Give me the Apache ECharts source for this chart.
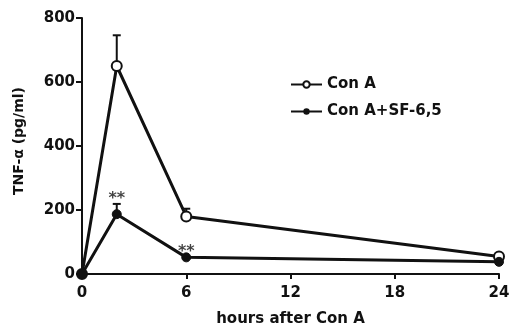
<!DOCTYPE html>
<html>
<head>
<meta charset="utf-8">
<script src="https://cdn.jsdelivr.net/npm/echarts@6/dist/echarts.min.js"></script>
<style>
html, body { margin: 0; padding: 0; background: #fff; }
#chart { width: 509px; height: 326px; }
</style>
</head>
<body>
<div id="chart"></div>
<script>
// hours after Con A
var hours = [0, 2, 6, 24];
var conA = [0, 650, 180, 55];
var conAErr = [0, 96, 24, 0];
var conASF = [0, 187, 52, 38];
var conASFErr = [0, 32, 0, 0];
// significance marks (hour, label)
var starHours = [2, 6];
var starLabels = ['**', '**'];

var font = '"DejaVu Sans", Verdana, sans-serif';

function pairs(xs, ys) {
	var out = [];
	for (var i = 0; i < xs.length; i++) out.push([xs[i], ys[i]]);
	return out;
}

function errData(ys, es) {
	var out = [];
	for (var i = 0; i < hours.length; i++) {
		if (es[i] > 0) out.push([hours[i], ys[i], ys[i] + es[i]]);
	}
	return out;
}

function renderErr(params, api) {
	var p0 = api.coord([api.value(0), api.value(1)]);
	var p1 = api.coord([api.value(0), api.value(2)]);
	var style = { stroke: '#111', lineWidth: 2 };
	return {
		type: 'group',
		children: [
			{ type: 'line', shape: { x1: p0[0], y1: p0[1], x2: p1[0], y2: p1[1] }, style: style },
			{ type: 'line', shape: { x1: p1[0] - 4, y1: p1[1], x2: p1[0] + 4, y2: p1[1] }, style: style }
		]
	};
}

// stars sit just above the SF-6,5 points / error bars
var starData = [];
for (var k = 0; k < starHours.length; k++) {
	var idx = hours.indexOf(starHours[k]);
	starData.push({ value: [starHours[k], conASF[idx] + conASFErr[idx]], name: starLabels[k] });
}

var chart = echarts.init(document.getElementById('chart'));
chart.setOption({
	animation: false,
	grid: { left: 82, right: 10, top: 18, bottom: 52, outerBoundsMode: 'none' },
	legend: {
		left: 285, top: 72, orient: 'vertical', itemGap: 12,
		itemWidth: 31, itemHeight: 8,
		textStyle: { fontFamily: font, fontWeight: 'bold', fontSize: 15, color: '#111' },
		data: ['Con A', 'Con A+SF-6,5']
	},
	xAxis: {
		type: 'value', min: 0, max: 24, interval: 6,
		name: 'hours after Con A', nameLocation: 'middle', nameGap: 38, nameMoveOverlap: false,
		nameTextStyle: { fontFamily: font, fontWeight: 'bold', fontSize: 15, color: '#111' },
		axisLine: { lineStyle: { color: '#111', width: 2 } },
		axisTick: { length: 5, lineStyle: { color: '#111', width: 2 } },
		axisLabel: { fontFamily: font, fontWeight: 'bold', fontSize: 15, color: '#111', margin: 12 },
		splitLine: { show: false }
	},
	yAxis: {
		type: 'value', min: 0, max: 800, interval: 200,
		name: 'TNF-α (pg/ml)', nameLocation: 'middle', nameGap: 56, nameRotate: 90,
		nameTextStyle: { fontFamily: font, fontWeight: 'bold', fontSize: 14, color: '#111', padding: [0, 0, 0, 10] },
		axisLine: { show: true, lineStyle: { color: '#111', width: 2 } },
		axisTick: { show: true, length: 6, lineStyle: { color: '#111', width: 2 } },
		axisLabel: { fontFamily: font, fontWeight: 'bold', fontSize: 15, color: '#111', margin: 7 },
		splitLine: { show: false }
	},
	series: [{
		name: 'Con A',
		type: 'line',
		data: pairs(hours, conA),
		symbol: 'circle', symbolSize: 10,
		itemStyle: { color: '#fff', borderColor: '#111', borderWidth: 2 },
		lineStyle: { color: '#111', width: 3 },
		z: 3
	}, {
		name: 'Con A+SF-6,5',
		type: 'line',
		data: pairs(hours, conASF),
		symbol: 'circle', symbolSize: 9,
		itemStyle: { color: '#111', borderColor: '#111' },
		lineStyle: { color: '#111', width: 3 },
		z: 3
	}, {
		type: 'custom',
		renderItem: renderErr,
		data: errData(conA, conAErr).concat(errData(conASF, conASFErr)),
		z: 2
	}, {
		type: 'scatter',
		symbol: 'circle', symbolSize: 1,
		itemStyle: { color: 'rgba(0,0,0,0)' },
		data: starData,
		label: {
			show: true, position: 'top', distance: -3, formatter: '{b}',
			fontFamily: font, fontWeight: 'bold', fontSize: 16, color: '#111'
		},
		silent: true,
		z: 4
	}]
});
</script>
</body>
</html>
